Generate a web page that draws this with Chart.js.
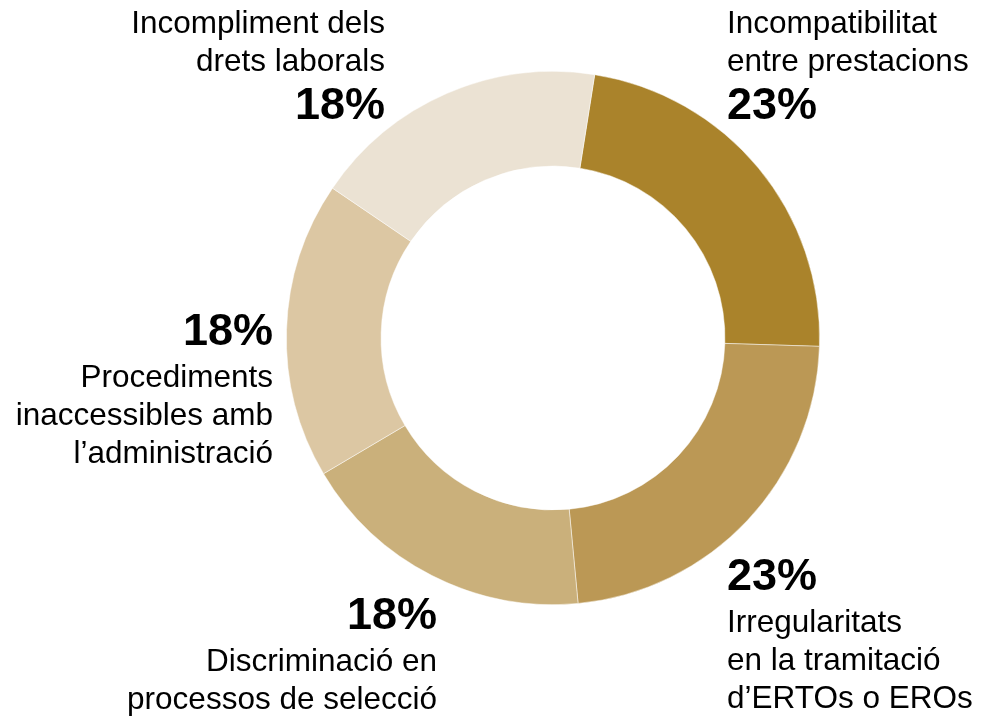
<!DOCTYPE html>
<html>
<head>
<meta charset="utf-8">
<script src="https://cdn.jsdelivr.net/npm/chart.js@4/dist/chart.umd.min.js"></script>
<style>
    html, body { margin: 0; padding: 0; background: #fff; }
    #wrap { width: 990px; height: 716px; }
</style>
</head>
<body>
<div id="wrap"><canvas id="donut" width="990" height="716"></canvas></div>
<script>
// data, clockwise from the top
const categories = [
    'Incompatibilitat entre prestacions',
    'Irregularitats en la tramitació d’ERTOs o EROs',
    'Discriminació en processos de selecció',
    'Procediments inaccessibles amb l’administració',
    'Incompliment dels drets laborals'
];
const values = [23, 23, 18, 18, 18];
const labelLines = [
    ['Incompatibilitat', 'entre prestacions'],
    ['Irregularitats', 'en la tramitació', 'd’ERTOs o EROs'],
    ['Discriminació en', 'processos de selecció'],
    ['Procediments', 'inaccessibles amb', 'l’administració'],
    ['Incompliment dels', 'drets laborals']
];
const sliceColors = ['#AA832B', '#BB9855', '#CAB07B', '#DCC7A3', '#EBE2D3'];

// where each label block sits, relative to the donut centre
// dx: anchor x, top: baseline of the first row, pctFirst: percentage above the text
const labelLayout = [
    { align: 'left',  dx: 174,  top: -305, pctFirst: false },
    { align: 'left',  dx: 174,  top: 252,  pctFirst: true },
    { align: 'right', dx: -116, top: 291,  pctFirst: true },
    { align: 'right', dx: -280, top: 7,    pctFirst: true },
    { align: 'right', dx: -168, top: -305, pctFirst: false }
];

const TEXT_FONT = '31.5px "Liberation Sans", Arial, sans-serif';
const PCT_FONT = 'bold 45px "Liberation Sans", Arial, sans-serif';
const LINE_H = 38;
const PCT_TO_TEXT = 42;
const TEXT_TO_PCT = 48;

const outsideLabels = {
    id: 'outsideLabels',
    afterDraw(chart) {
        const ctx = chart.ctx;
        const arc = chart.getDatasetMeta(0).data[0];
        const cx = arc.x, cy = arc.y;
        ctx.save();
        ctx.fillStyle = '#000';
        ctx.textBaseline = 'alphabetic';
        labelLayout.forEach((lay, i) => {
            const x = cx + lay.dx;
            let y = cy + lay.top;
            ctx.textAlign = lay.align;
            const pct = values[i] + '%';
            if (lay.pctFirst) {
                ctx.font = PCT_FONT;
                ctx.fillText(pct, x, y);
                y += PCT_TO_TEXT;
            }
            ctx.font = TEXT_FONT;
            labelLines[i].forEach((line, k) => {
                ctx.fillText(line, x, y);
                if (k < labelLines[i].length - 1) y += LINE_H;
            });
            if (!lay.pctFirst) {
                y += TEXT_TO_PCT;
                ctx.font = PCT_FONT;
                ctx.fillText(pct, x, y);
            }
        });
        ctx.restore();
    }
};

new Chart(document.getElementById('donut').getContext('2d'), {
    type: 'doughnut',
    data: {
        labels: categories,
        datasets: [{
            data: values,
            backgroundColor: sliceColors,
            borderColor: 'rgba(255,255,255,0.6)',
            borderWidth: 0.8
        }]
    },
    options: {
        responsive: false,
        animation: false,
        rotation: 9,
        cutout: '64.5%',
        layout: { padding: { left: 286, right: 170, top: 71, bottom: 111 } },
        plugins: {
            legend: { display: false },
            tooltip: { enabled: false }
        }
    },
    plugins: [outsideLabels]
});
</script>
</body>
</html>
